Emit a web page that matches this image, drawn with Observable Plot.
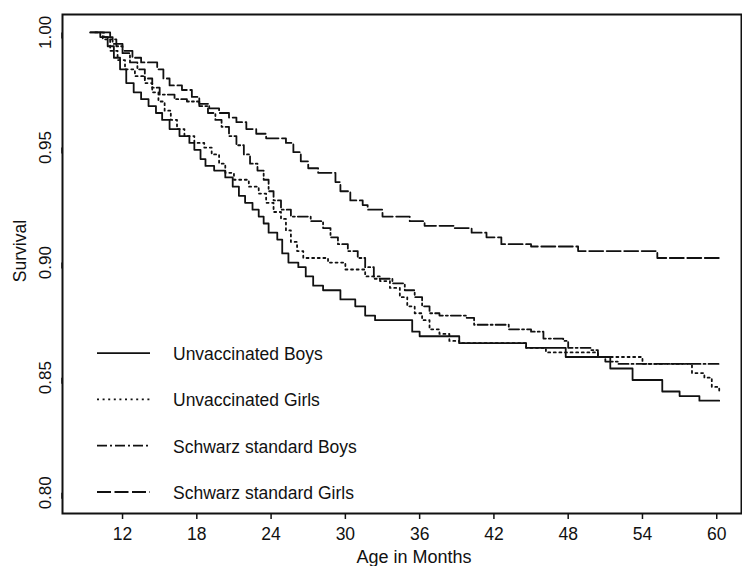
<!DOCTYPE html>
<html>
<head>
<meta charset="utf-8">
<script src="https://cdn.jsdelivr.net/npm/d3@7"></script>
<script src="https://cdn.jsdelivr.net/npm/@observablehq/plot@0.6"></script>
<style>
  html, body { margin: 0; padding: 0; background: #fff; }
  #chart { width: 742px; height: 566px; }
</style>
</head>
<body>
<div id="chart"></div>
<script>
// ---- data (Kaplan–Meier step curves) ----
const seriesNames = ["Unvaccinated Boys", "Unvaccinated Girls", "Schwarz standard Boys", "Schwarz standard Girls"];

const ubMonths = [9.4,10.2,10.8,11.3,11.8,12.3,12.9,13.5,14.1,14.7,15.2,15.8,16.6,17.4,17.8,18.3,18.7,19.4,20.3,20.9,21.4,21.9,22.5,23.0,23.4,23.8,24.5,24.9,25.4,26.2,26.8,27.4,28.2,29.6,30.8,31.6,32.4,35.4,36.0,39.2,44.6,47.8,51.4,53.2,55.6,57.0,58.6,60.2];
const ubSurv   = [1.000,0.998,0.994,0.989,0.984,0.978,0.974,0.971,0.968,0.965,0.962,0.958,0.955,0.952,0.949,0.945,0.942,0.940,0.937,0.933,0.929,0.926,0.923,0.920,0.917,0.913,0.910,0.904,0.900,0.898,0.894,0.890,0.888,0.884,0.881,0.877,0.875,0.870,0.868,0.865,0.863,0.859,0.854,0.849,0.844,0.842,0.840,0.840];

const ugMonths = [9.8,10.4,11.0,11.6,12.2,13.0,13.8,14.4,14.9,15.4,15.9,16.4,17.0,17.8,18.6,19.2,19.8,20.3,21.0,22.2,23.0,23.6,24.2,24.8,25.2,25.6,26.1,26.6,28.6,30.0,31.6,32.8,33.6,34.4,35.0,35.6,36.2,36.8,37.6,38.4,39.2,44.6,46.2,50.4,54.0,58.0,59.0,59.6,60.2];
const ugSurv   = [1.000,0.997,0.992,0.988,0.984,0.981,0.978,0.974,0.970,0.966,0.962,0.958,0.955,0.952,0.950,0.947,0.943,0.939,0.936,0.933,0.930,0.926,0.922,0.919,0.914,0.909,0.905,0.902,0.900,0.897,0.894,0.892,0.889,0.885,0.881,0.878,0.875,0.871,0.869,0.866,0.865,0.863,0.861,0.859,0.856,0.852,0.850,0.846,0.844];

const sbMonths = [10.5,11.0,11.5,12.0,12.6,13.2,13.8,14.4,15.0,16.2,17.2,18.2,18.9,19.5,20.0,20.6,21.2,21.8,22.3,22.9,23.4,23.8,24.2,24.8,25.6,27.2,28.2,28.8,29.4,30.2,31.0,31.6,32.3,33.8,34.8,35.6,36.2,36.8,37.6,39.8,40.4,43.2,45.0,46.0,47.6,48.0,49.8,50.4,51.0,52.0,60.2];
const sbSurv   = [1.000,0.997,0.994,0.991,0.987,0.984,0.980,0.976,0.973,0.971,0.970,0.968,0.965,0.962,0.959,0.955,0.951,0.947,0.943,0.940,0.936,0.931,0.927,0.923,0.920,0.918,0.915,0.911,0.908,0.905,0.902,0.898,0.893,0.891,0.888,0.885,0.881,0.878,0.877,0.876,0.873,0.871,0.870,0.867,0.866,0.863,0.862,0.859,0.857,0.856,0.856];

const sgMonths = [9.4,10.5,11.2,12.0,12.8,13.5,14.8,15.3,15.8,16.8,17.6,18.2,19.0,19.8,20.6,21.2,22.0,22.8,23.6,25.2,25.8,26.4,27.0,27.8,29.2,29.6,30.4,31.4,31.8,33.0,35.2,36.4,38.8,40.2,41.4,42.6,45.0,48.8,55.2,60.2];
const sgSurv   = [1.000,0.998,0.995,0.992,0.989,0.987,0.984,0.980,0.977,0.975,0.972,0.969,0.967,0.965,0.963,0.961,0.958,0.956,0.954,0.952,0.948,0.944,0.941,0.939,0.935,0.931,0.927,0.925,0.923,0.920,0.918,0.916,0.915,0.913,0.911,0.908,0.907,0.905,0.902,0.902];

const xTicks = [12, 18, 24, 30, 36, 42, 48, 54, 60];
const yTicks = [0.80, 0.85, 0.90, 0.95, 1.00];

// ---- build table ----
const seriesData = [
  {name: seriesNames[0], months: ubMonths, surv: ubSurv},
  {name: seriesNames[1], months: ugMonths, surv: ugSurv},
  {name: seriesNames[2], months: sbMonths, surv: sbSurv},
  {name: seriesNames[3], months: sgMonths, surv: sgSurv}
];
const dashes = {
  "Unvaccinated Boys": "none",
  "Unvaccinated Girls": "2,3.6",
  "Schwarz standard Boys": "10,3,2,3",
  "Schwarz standard Girls": "14,3.5"
};
const rows = seriesData.map(s => s.months.map((m, i) => ({series: s.name, month: m, surv: s.surv[i]})));

const FONT = "'Liberation Sans', Arial, Helvetica, sans-serif";
const INK = "#111";

function legendMark(index, scales, values, dimensions) {
  const {marginLeft, marginBottom, height} = dimensions;
  const g = d3.create("svg:g");
  const n = seriesNames.length;
  seriesNames.forEach((name, i) => {
    const y = height - marginBottom - 21 - 46.3 * (n - 1 - i);
    g.append("line")
      .attr("x1", marginLeft + 35).attr("x2", marginLeft + 88)
      .attr("y1", y).attr("y2", y)
      .attr("stroke", INK).attr("stroke-width", 1.8)
      .attr("stroke-dasharray", dashes[name]);
    g.append("text")
      .attr("x", marginLeft + 111).attr("y", y + 7)
      .attr("fill", INK)
      .attr("text-anchor", "start")
      .attr("font-size", 17.5)
      .attr("font-family", FONT)
      .text(name);
  });
  return g.node();
}

const chart = Plot.plot({
  width: 742,
  height: 566,
  marginLeft: 62,
  marginRight: 1,
  marginTop: 14,
  marginBottom: 53,
  style: {fontFamily: FONT, fontSize: "17px", color: INK, background: "#fff"},
  x: {domain: [7.15, 62.0]},
  y: {domain: [0.791, 1.0078]},
  marks: [
    ...rows.map(r => Plot.line(r, {
      x: "month", y: "surv", curve: "step-after",
      stroke: INK, strokeWidth: 1.8,
      strokeDasharray: dashes[r[0].series]
    })),
    Plot.frame({stroke: INK, strokeWidth: 2}),
    Plot.axisX({ticks: xTicks, tickSize: 6, tickPadding: 8, tickFormat: d => String(d),
      label: null, fontSize: 17.5, strokeWidth: 1.5}),
    Plot.axisY({ticks: yTicks, tickSize: 6, tickPadding: 11, tickFormat: d3.format(".2f"),
      rotate: -90, textAnchor: "middle", label: null, fontSize: 17, strokeWidth: 1.5}),
    Plot.text(["Age in Months"], {frameAnchor: "bottom", text: d => d, dx: 12, dy: 37,
      lineAnchor: "top", fontSize: 18, fill: INK}),
    Plot.text(["Survival"], {frameAnchor: "left", text: d => d, dx: -42, dy: -13,
      rotate: -90, textAnchor: "middle", fontSize: 17.5, fill: INK}),
    legendMark
  ]
});
document.getElementById("chart").appendChild(chart);
</script>
</body>
</html>
